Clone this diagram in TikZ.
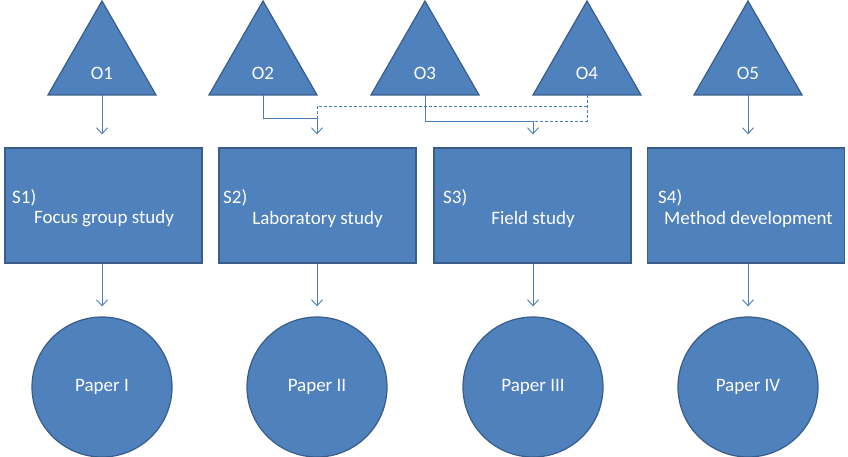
\documentclass[tikz,border=0pt]{standalone}
\usepackage{fontspec}
\setmainfont{Carlito}
\usetikzlibrary{arrows.meta,calc}
\definecolor{fillblue}{HTML}{4F81BD}
\definecolor{edgeblue}{HTML}{385D8A}
\definecolor{linkblue}{HTML}{4A7EBB}
\begin{document}
\begin{tikzpicture}[x=1pt,y=-1pt,
  shapefill/.style={fill=fillblue,draw=edgeblue,line width=1.2pt},
  lbl/.style={text=white,font=\fontsize{19}{22}\selectfont,inner sep=0pt},
  boxnode/.style={shapefill,minimum width=197pt,minimum height=115pt,inner sep=0pt},
  papernode/.style={shapefill,circle,minimum size=140pt,inner sep=0pt,text=white,font=\fontsize{19}{22}\selectfont},
  link/.style={draw=linkblue,line width=0.9pt},
  arr/.style={link,-{Straight Barb[length=6pt,width=11pt]}},
  dsh/.style={link,dash pattern=on 3pt off 2pt}]
\useasboundingbox (0,0) rectangle (848,457);
% triangles
\foreach \n/\x in {1/102,2/263,3/425,4/587,5/748}{
  \draw[shapefill] (\x-54,95) -- (\x,1) -- (\x+54,95) -- cycle;
  \node[lbl] (o\n) at (\x,73) {O\n};
  \coordinate (ob\n) at (\x,95);
}
% boxes
\node[boxnode] (s1) at (103.5,205.5) {};
\node[boxnode] (s2) at (317.5,205.5) {};
\node[boxnode] (s3) at (532.5,205.5) {};
\node[boxnode] (s4) at (746,205.5) {};
\node[lbl,anchor=west] (s1t) at (12,198) {S1)};
\node[lbl,anchor=west] (s2t) at (223,198) {S2)};
\node[lbl,anchor=west] (s3t) at (443,198) {S3)};
\node[lbl,anchor=west] (s4t) at (658,198) {S4)};
\node[lbl] (s1m) at (104,219) {Focus group study};
\node[lbl] (s2m) at (317.5,219) {Laboratory study};
\node[lbl] (s3m) at (533,219) {Field study};
\node[lbl] (s4m) at (748.5,219) {Method development};
% papers
\node[papernode] (p1) at (102,387) {Paper I};
\node[papernode] (p2) at (317,387) {Paper II};
\node[papernode] (p3) at (533,387) {Paper III};
\node[papernode] (p4) at (748,387) {Paper IV};
% connectors objectives -> studies
\coordinate (j2) at (317,118);
\coordinate (j3) at (533,121);
\coordinate (d4) at (587,106);
\draw[dsh] (d4) -| (j2);
\draw[dsh] (ob4) |- (j3);
\draw[arr] (ob1) -- ($(ob1 |- s1.north)+(0,-13)$);
\draw[arr] (ob2) |- (j2) -- ($(j2 |- s2.north)+(0,-13)$);
\draw[arr] (ob3) |- (j3) -- ($(j3 |- s3.north)+(0,-13)$);
\draw[arr] (ob5) -- ($(ob5 |- s4.north)+(0,-13)$);
% studies -> papers
\draw[arr] (p1.north |- s1.south) -- ($(p1.north)+(0,-10)$);
\draw[arr] (p2.north |- s2.south) -- ($(p2.north)+(0,-10)$);
\draw[arr] (p3.north |- s3.south) -- ($(p3.north)+(0,-10)$);
\draw[arr] (p4.north |- s4.south) -- ($(p4.north)+(0,-10)$);
\end{tikzpicture}
\end{document}
